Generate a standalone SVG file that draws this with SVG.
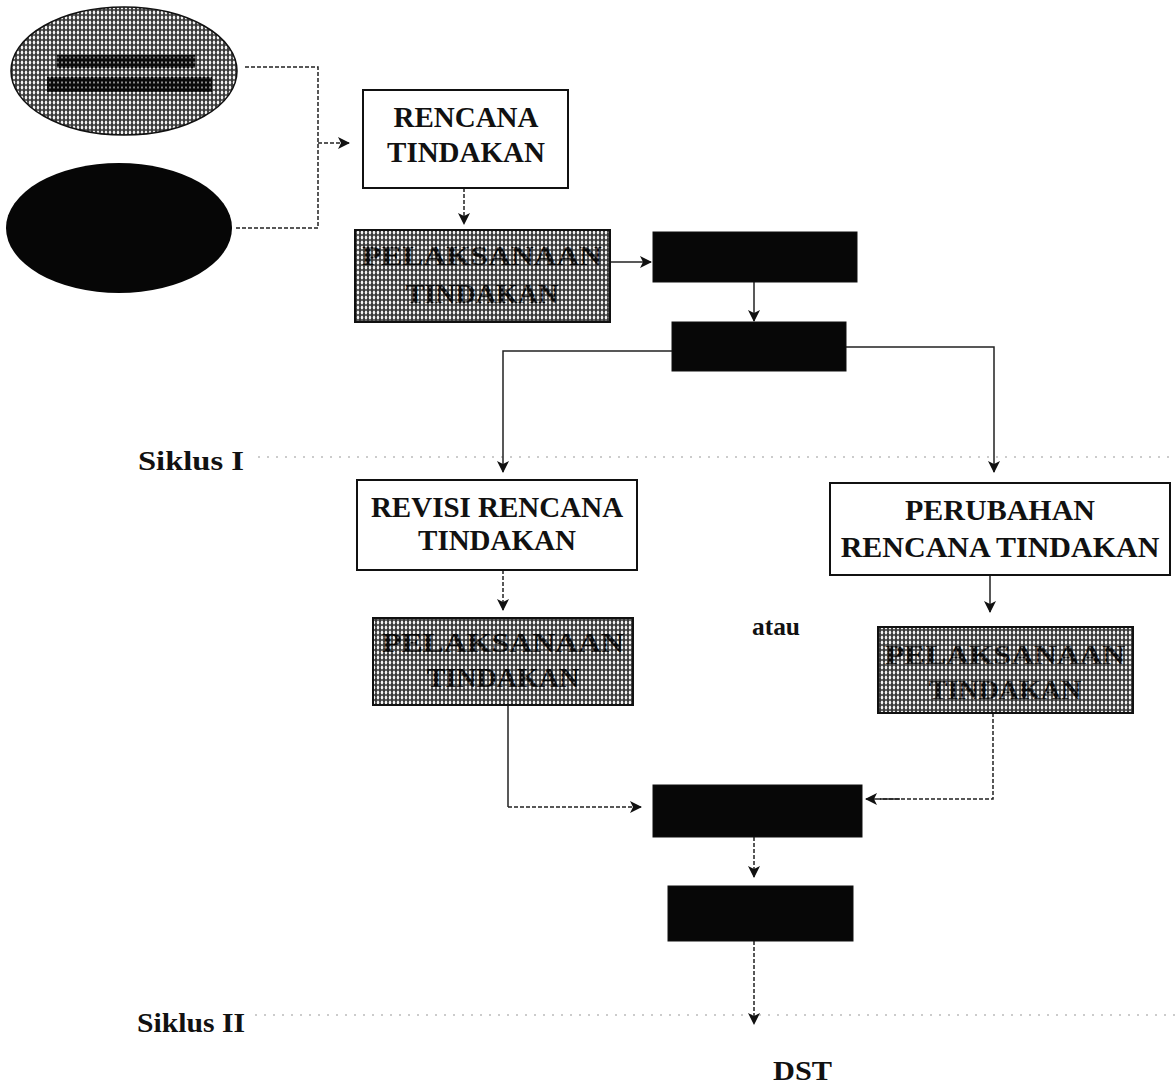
<svg xmlns="http://www.w3.org/2000/svg" width="1176" height="1086" viewBox="0 0 1176 1086">
<style>
.lbl{font-family:"Liberation Serif","Times New Roman",serif;font-weight:bold;fill:#111;text-anchor:middle}
.side{font-family:"Liberation Serif","Times New Roman",serif;font-weight:bold;fill:#111}
.box{fill:#fff;stroke:#111;stroke-width:2}
.blk{fill:#070707;stroke:#111;stroke-width:1}
.hbox{fill:url(#hatch);stroke:#111;stroke-width:2}
.htxt{font-family:"Liberation Serif","Times New Roman",serif;font-weight:bold;fill:url(#hatchDark);text-anchor:middle}
.con{fill:none;stroke:#222;stroke-width:1.5}
.dash{stroke-dasharray:4 2}
.dot{fill:none;stroke:#999;stroke-width:1;stroke-dasharray:2 7}
</style>
<defs>
<pattern id="hatch" width="4" height="5" patternUnits="userSpaceOnUse">
<rect width="4" height="5" fill="#3a3a3a"/>
<ellipse cx="2" cy="2.5" rx="1.2" ry="2" fill="#f2f2f2"/>
</pattern>
<pattern id="hatchDark" width="4" height="5" patternUnits="userSpaceOnUse">
<rect width="4" height="5" fill="#0a0a0a"/>
<ellipse cx="2" cy="2.5" rx="0.7" ry="1.2" fill="#bbb"/>
</pattern>
<marker id="ah" markerWidth="12" markerHeight="12" refX="11" refY="6" orient="auto" markerUnits="userSpaceOnUse">
<path d="M0,0 L12,6 L0,12 L3,6 z" fill="#111"/>
</marker>
</defs>

<g id="guides">
<line class="dot" x1="258" y1="457" x2="1176" y2="457"/>
<line class="dot" x1="255" y1="1015" x2="1176" y2="1015"/>
</g>

<g id="connectors">
<polyline class="con dash" points="245,67 318,67 318,228 235,228"/>
<line class="con dash" x1="318" y1="143" x2="349" y2="143" marker-end="url(#ah)"/>
<line class="con dash" x1="464" y1="188" x2="464" y2="224" marker-end="url(#ah)"/>
<line class="con" x1="610" y1="262" x2="651" y2="262" marker-end="url(#ah)"/>
<line class="con" x1="754" y1="282" x2="754" y2="321" marker-end="url(#ah)"/>
<polyline class="con" points="672,351 503,351 503,472" marker-end="url(#ah)"/>
<polyline class="con" points="846,347 994,347 994,472" marker-end="url(#ah)"/>
<line class="con dash" x1="503" y1="570" x2="503" y2="610" marker-end="url(#ah)"/>
<line class="con" x1="990" y1="575" x2="990" y2="612" marker-end="url(#ah)"/>
<polyline class="con" points="508,705 508,807"/>
<line class="con dash" x1="508" y1="807" x2="641" y2="807" marker-end="url(#ah)"/>
<polyline class="con dash" points="993,713 993,799 880,799"/>
<line class="con" x1="900" y1="799" x2="866" y2="799" marker-end="url(#ah)"/>
<line class="con dash" x1="754" y1="837" x2="754" y2="877" marker-end="url(#ah)"/>
<line class="con dash" x1="754" y1="941" x2="754" y2="1024" marker-end="url(#ah)"/>
</g>

<g id="ellipse-top">
<ellipse cx="124" cy="71" rx="113" ry="64" fill="url(#hatch)" stroke="#111" stroke-width="1.5"/>
<rect x="57" y="55" width="138" height="13" fill="url(#hatchDark)"/>
<rect x="47" y="77" width="165" height="15" fill="url(#hatchDark)"/>
</g>
<g id="ellipse-bottom">
<ellipse cx="119" cy="228" rx="113" ry="65" fill="#060606"/>
</g>

<g id="rencana">
<rect class="box" x="363" y="90" width="205" height="98"/>
<text class="lbl" x="466" y="127" font-size="29">RENCANA</text>
<text class="lbl" x="466" y="162" font-size="29">TINDAKAN</text>
</g>

<g id="pelaksanaan1">
<rect class="hbox" x="355" y="230" width="255" height="92"/>
<text class="htxt" x="482" y="265" font-size="28" textLength="240" lengthAdjust="spacingAndGlyphs">PELAKSANAAN</text>
<text class="htxt" x="482" y="303" font-size="28">TINDAKAN</text>
</g>

<g id="black1"><rect class="blk" x="653" y="232" width="204" height="50"/></g>
<g id="black2"><rect class="blk" x="672" y="322" width="174" height="49"/></g>

<g id="siklus1"><text class="side" x="138" y="470" font-size="27" textLength="106" lengthAdjust="spacingAndGlyphs">Siklus I</text></g>

<g id="revisi">
<rect class="box" x="357" y="480" width="280" height="90"/>
<text class="lbl" x="497" y="517" font-size="29">REVISI RENCANA</text>
<text class="lbl" x="497" y="550" font-size="29">TINDAKAN</text>
</g>

<g id="perubahan">
<rect class="box" x="830" y="483" width="340" height="92"/>
<text class="lbl" x="1000" y="520" font-size="30">PERUBAHAN</text>
<text class="lbl" x="1000" y="557" font-size="30">RENCANA TINDAKAN</text>
</g>

<g id="pelaksanaan2">
<rect class="hbox" x="373" y="618" width="260" height="87"/>
<text class="htxt" x="503" y="652" font-size="28" textLength="242" lengthAdjust="spacingAndGlyphs">PELAKSANAAN</text>
<text class="htxt" x="503" y="687" font-size="28">TINDAKAN</text>
</g>

<g id="atau"><text class="side" x="752" y="635" font-size="26" textLength="48" lengthAdjust="spacingAndGlyphs">atau</text></g>

<g id="pelaksanaan3">
<rect class="hbox" x="878" y="627" width="255" height="86"/>
<text class="htxt" x="1005" y="664" font-size="28" textLength="240" lengthAdjust="spacingAndGlyphs">PELAKSANAAN</text>
<text class="htxt" x="1005" y="699" font-size="28">TINDAKAN</text>
</g>

<g id="black3"><rect class="blk" x="653" y="785" width="209" height="52"/></g>
<g id="black4"><rect class="blk" x="668" y="886" width="185" height="55"/></g>

<g id="siklus2"><text class="side" x="137" y="1032" font-size="27" textLength="108" lengthAdjust="spacingAndGlyphs">Siklus II</text></g>
<g id="dst"><text class="side" x="773" y="1080" font-size="28" textLength="59" lengthAdjust="spacingAndGlyphs">DST</text></g>
</svg>
